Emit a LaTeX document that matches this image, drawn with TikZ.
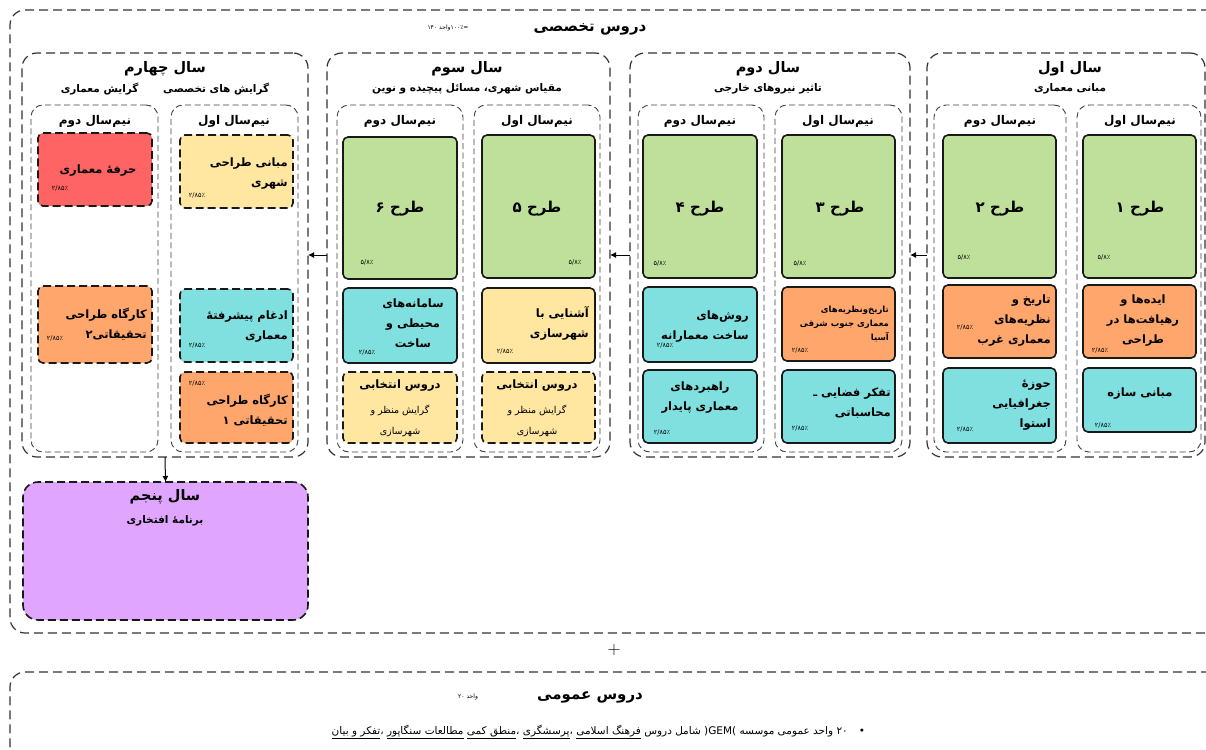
\documentclass[tikz,border=0pt]{standalone}
\usepackage{fontspec}
\newfontfamily\fa[Script=Arabic]{DejaVu Sans}
\TeXXeTstate=1
\usetikzlibrary{arrows.meta}
\newcommand\R[1]{\beginR#1\endR}
\newcommand\mkbox[6]{\node[#6, minimum width={(#4)-(#2)}, minimum height={(#5)-(#3)}] (#1) at ({((#2)+(#4))/2},{((#3)+(#5))/2}) {};}
\definecolor{cgreen}{HTML}{BFE09A}
\definecolor{corange}{HTML}{FFA66C}
\definecolor{ccyan}{HTML}{80E0E0}
\definecolor{cyellow}{HTML}{FFE6A1}
\definecolor{cred}{HTML}{FF6464}
\definecolor{cpurple}{HTML}{E0A6FF}
\tikzset{
  outerbox/.style={draw=black!80, line width=1.2pt, dash pattern=on 9pt off 5pt, rounded corners=15pt, inner sep=0pt, outer sep=0pt},
  yearbox/.style={draw=black!80, line width=1.2pt, dash pattern=on 9pt off 5pt, rounded corners=15pt, inner sep=0pt, outer sep=0pt},
  sembox/.style={draw=black!75, line width=0.9pt, dash pattern=on 6pt off 3.5pt, rounded corners=12pt, inner sep=0pt, outer sep=0pt},
  course/.style={draw=black!90, line width=1.6pt, rounded corners=5pt, inner sep=0pt, outer sep=0pt},
  dcourse/.style={course, dash pattern=on 8pt off 4pt},
  arr/.style={line width=1pt, -{Latex[length=6pt,width=6pt]}},
  bigttl/.style={font=\fa\bfseries\fontsize{15}{17}\selectfont, inner sep=0pt},
  yttl/.style={font=\fa\bfseries\fontsize{14.5}{16}\selectfont, inner sep=0pt},
  ysub/.style={font=\fa\bfseries\fontsize{10.5}{12}\selectfont, inner sep=0pt},
  sttl/.style={font=\fa\bfseries\fontsize{12}{14}\selectfont, inner sep=0pt},
  dsn/.style={font=\fa\bfseries\fontsize{15}{17}\selectfont, inner sep=0pt},
  ct/.style={font=\fa\bfseries\fontsize{11.5}{20}\selectfont, inner sep=0pt, align=right},
  ctc/.style={font=\fa\bfseries\fontsize{11.5}{20}\selectfont, inner sep=0pt, align=center},
  cts/.style={font=\fa\bfseries\fontsize{8.5}{14}\selectfont, inner sep=0pt, align=right},
  el/.style={font=\fa\fontsize{9.5}{21}\selectfont, inner sep=0pt, align=center},
  pct/.style={font=\fa\fontsize{6.5}{7}\selectfont, inner sep=0pt},
  tiny/.style={font=\fa\fontsize{6}{7}\selectfont, inner sep=0pt},
  foot/.style={font=\fa\fontsize{10.5}{12}\selectfont, inner sep=0pt},
}
\begin{document}
\begin{tikzpicture}[x=1pt,y=-1pt]
\clip (0,0) rectangle (1206,749);
\fill[white] (0,0) rectangle (1206,749);
% outer boxes
\mkbox{outer}{10}{10}{1225}{633}{outerbox}
\mkbox{gen}{10}{672}{1225}{780}{outerbox}
\node[bigttl] (t1) at (590,29) {\R{دروس تخصصی}};
\node[tiny] (t1u) at (448,28) {۱۴۰\hspace{2pt}\hbox{واحد}\hbox{=۱۰۰٪}};
% years
\mkbox{y1}{927}{53}{1205}{457}{yearbox}
\mkbox{y2}{630}{53}{910}{457}{yearbox}
\mkbox{y3}{327}{53}{610}{457}{yearbox}
\mkbox{y4}{22}{53}{308}{457}{yearbox}
\mkbox{y5}{23}{482}{308}{620}{yearbox, fill=cpurple, draw=black!90, line width=1.6pt, dash pattern=on 8pt off 4pt}
\node[yttl] (y1t) at (1070,69) {\R{سال اول}};
\node[ysub] (y1s) at (1070,89) {\R{مبانی معماری}};
\node[yttl] (y2t) at (768,69) {\R{سال دوم}};
\node[ysub] (y2s) at (768,89) {\R{تاثیر نیروهای خارجی}};
\node[yttl] (y3t) at (467,69) {\R{سال سوم}};
\node[ysub] (y3s) at (467,89) {\R{مقیاس شهری، مسائل پیچیده و نوین}};
\node[yttl] (y4t) at (165,69) {\R{سال چهارم}};
\node[ysub] (y4s) at (165,89) {\R{گرایش های تخصصی\quad\quad\ گرایش معماری}};
\node[yttl] (y5t) at (165,497) {\R{سال پنجم}};
\node[ysub] (y5s) at (165,521) {\R{برنامهٔ افتخاری}};
% semesters
\mkbox{s11}{1077}{105}{1201}{452}{sembox}
\mkbox{s12}{934}{105}{1066}{452}{sembox}
\mkbox{s21}{775}{105}{902}{452}{sembox}
\mkbox{s22}{638}{105}{764}{452}{sembox}
\mkbox{s31}{474}{105}{600}{452}{sembox}
\mkbox{s32}{337}{105}{463}{452}{sembox}
\mkbox{s41}{171}{105}{298}{452}{sembox}
\mkbox{s42}{31}{105}{158}{452}{sembox}
\foreach \n/\x in {s11/1140,s21/838,s31/537,s41/234}{\node[sttl] (\n t) at (\x,121) {\R{نیم^^^^200cسال اول}};}
\foreach \n/\x in {s12/1000,s22/700,s32/400,s42/95}{\node[sttl] (\n t) at (\x,121) {\R{نیم^^^^200cسال دوم}};}
% ---- year 1
\mkbox{g1}{1083}{135}{1196}{278}{course, fill=cgreen}
\node[dsn] (g1t) at (1140,209) {\R{طرح ۱}};
\node[pct] (g1p) at (1104,257) {۵/۸٪};
\mkbox{c11}{1083}{285}{1196}{358}{course, fill=corange}
\node[ctc] (c11t) at (1143,321) {\R{ایده^^^^200cها و}\\\R{رهیافت^^^^200cها در}\\\R{طراحی}};
\node[pct] (c11p) at (1100,350) {۲/۸۵٪};
\mkbox{c12}{1083}{368}{1196}{432}{course, fill=ccyan}
\node[ctc] (c12t) at (1140,394) {\R{مبانی سازه}};
\node[pct] (c12p) at (1103,425) {۲/۸۵٪};
\mkbox{g2}{943}{135}{1056}{278}{course, fill=cgreen}
\node[dsn] (g2t) at (1000,209) {\R{طرح ۲}};
\node[pct] (g2p) at (964,257) {۵/۸٪};
\mkbox{c21}{943}{285}{1056}{358}{course, fill=corange}
\node[ct, anchor=east] (c21t) at (1051,321) {\R{تاریخ و}\\\R{نظریه^^^^200cهای}\\\R{معماری غرب}};
\node[pct] (c21p) at (965,327) {۲/۸۵٪};
\mkbox{c22}{943}{368}{1056}{443}{course, fill=ccyan}
\node[ct, anchor=east] (c22t) at (1051,405) {\R{حوزهٔ}\\\R{جغرافیایی}\\\R{استوا}};
\node[pct] (c22p) at (965,429) {۲/۸۵٪};
% ---- year 2
\mkbox{g3}{782}{135}{895}{278}{course, fill=cgreen}
\node[dsn] (g3t) at (840,209) {\R{طرح ۳}};
\node[pct] (g3p) at (800,263) {۵/۸٪};
\mkbox{c31}{782}{287}{895}{361}{course, fill=corange}
\node[cts, anchor=east] (c31t) at (889,324) {\R{تاریخ^^^^200cونظریه^^^^200cهای}\\\R{معماری جنوب شرقی}\\\R{آسیا}};
\node[pct] (c31p) at (800,350) {۲/۸۵٪};
\mkbox{c32}{782}{370}{895}{443}{course, fill=ccyan}
\node[ct, anchor=east] (c32t) at (891,403) {\R{تفکر فضایی ـ}\\\R{محاسباتی}};
\node[pct] (c32p) at (800,428) {۲/۸۵٪};
\mkbox{g4}{643}{135}{757}{278}{course, fill=cgreen}
\node[dsn] (g4t) at (700,209) {\R{طرح ۴}};
\node[pct] (g4p) at (660,263) {۵/۸٪};
\mkbox{c41}{643}{287}{757}{362}{course, fill=ccyan}
\node[ct, anchor=east] (c41t) at (749,327) {\R{روش^^^^200cهای}\\\R{ساخت معمارانه}};
\node[pct] (c41p) at (665,345) {۲/۸۵٪};
\mkbox{c42}{643}{370}{757}{443}{course, fill=ccyan}
\node[ctc] (c42t) at (700,398) {\R{راهبردهای}\\\R{معماری پایدار}};
\node[pct] (c42p) at (662,432) {۲/۸۵٪};
% ---- year 3
\mkbox{g5}{482}{135}{595}{278}{course, fill=cgreen}
\node[dsn] (g5t) at (537,209) {\R{طرح ۵}};
\node[pct] (g5p) at (575,262) {۵/۸٪};
\mkbox{c51}{482}{288}{595}{363}{course, fill=cyellow}
\node[ct, anchor=east] (c51t) at (589,323) {\R{آشنایی با}\\\R{شهرسازی}};
\node[pct] (c51p) at (505,351) {۲/۸۵٪};
\mkbox{e5}{482}{372}{595}{443}{dcourse, fill=cyellow}
\node[ctc] (e5t) at (537,386) {\R{دروس انتخابی}};
\node[el] (e5s) at (537,421) {\R{گرایش منظر و}\\\R{شهرسازی}};
\mkbox{g6}{343}{137}{457}{279}{course, fill=cgreen}
\node[dsn] (g6t) at (400,209) {\R{طرح ۶}};
\node[pct] (g6p) at (367,262) {۵/۸٪};
\mkbox{c61}{343}{288}{457}{363}{course, fill=ccyan}
\node[ctc] (c61t) at (413,323) {\R{سامانه^^^^200cهای}\\\R{محیطی و}\\\R{ساخت}};
\node[pct] (c61p) at (367,352) {۲/۸۵٪};
\mkbox{e6}{343}{372}{457}{443}{dcourse, fill=cyellow}
\node[ctc] (e6t) at (400,386) {\R{دروس انتخابی}};
\node[el] (e6s) at (400,421) {\R{گرایش منظر و}\\\R{شهرسازی}};
% ---- year 4
\mkbox{c71}{180}{135}{293}{208}{dcourse, fill=cyellow}
\node[ct, anchor=east] (c71t) at (288,174) {\R{مبانی طراحی}\\\R{شهری}};
\node[pct] (c71p) at (197,195) {۲/۸۵٪};
\mkbox{c72}{180}{289}{293}{362}{dcourse, fill=ccyan}
\node[ct, anchor=east] (c72t) at (288,327) {\R{ادغام پیشرفتهٔ}\\\R{معماری}};
\node[pct] (c72p) at (197,345) {۲/۸۵٪};
\mkbox{c73}{180}{372}{293}{443}{dcourse, fill=corange}
\node[ct, anchor=east] (c73t) at (288,410) {\R{کارگاه طراحی}\\\R{تحقیقاتی ۱}};
\node[pct] (c73p) at (197,383) {۲/۸۵٪};
\mkbox{c81}{38}{133}{152}{206}{dcourse, fill=cred}
\node[ctc] (c81t) at (98,171) {\R{حرفهٔ معماری}};
\node[pct] (c81p) at (60,188) {۲/۸۵٪};
\mkbox{c82}{38}{286}{152}{363}{dcourse, fill=corange}
\node[ct, anchor=east] (c82t) at (147,324) {\R{کارگاه طراحی}\\\R{تحقیقاتی۲}};
\node[pct] (c82p) at (55,338) {۲/۸۵٪};
% arrows
\draw[arr] (y1.west) -- (y2.east);
\draw[arr] (y2.west) -- (y3.east);
\draw[arr] (y3.west) -- (y4.east);
\draw[arr] (y4.south) -- (y5.north);
% general
\node[font=\fontsize{18}{18}\selectfont, inner sep=0pt] (plus) at (614,650) {+};
\node[bigttl] (t2) at (590,697) {\R{دروس عمومی}};
\node[tiny] (t2u) at (468,697) {۲۰\hspace{2pt}\hbox{واحد}};
\node[foot] (bul) at (862,732) {•};
\node[foot, anchor=east] (ft) at (848,732) {\R{۲۰ واحد عمومی موسسه )GEM( شامل دروس \underline{\R{فرهنگ اسلامی}} ،\underline{\R{پرسشگری}} ،\underline{\R{منطق کمی}} \underline{\R{مطالعات سنگاپور}} ،\underline{\R{تفکر و بیان}}}};
\end{tikzpicture}
\end{document}
